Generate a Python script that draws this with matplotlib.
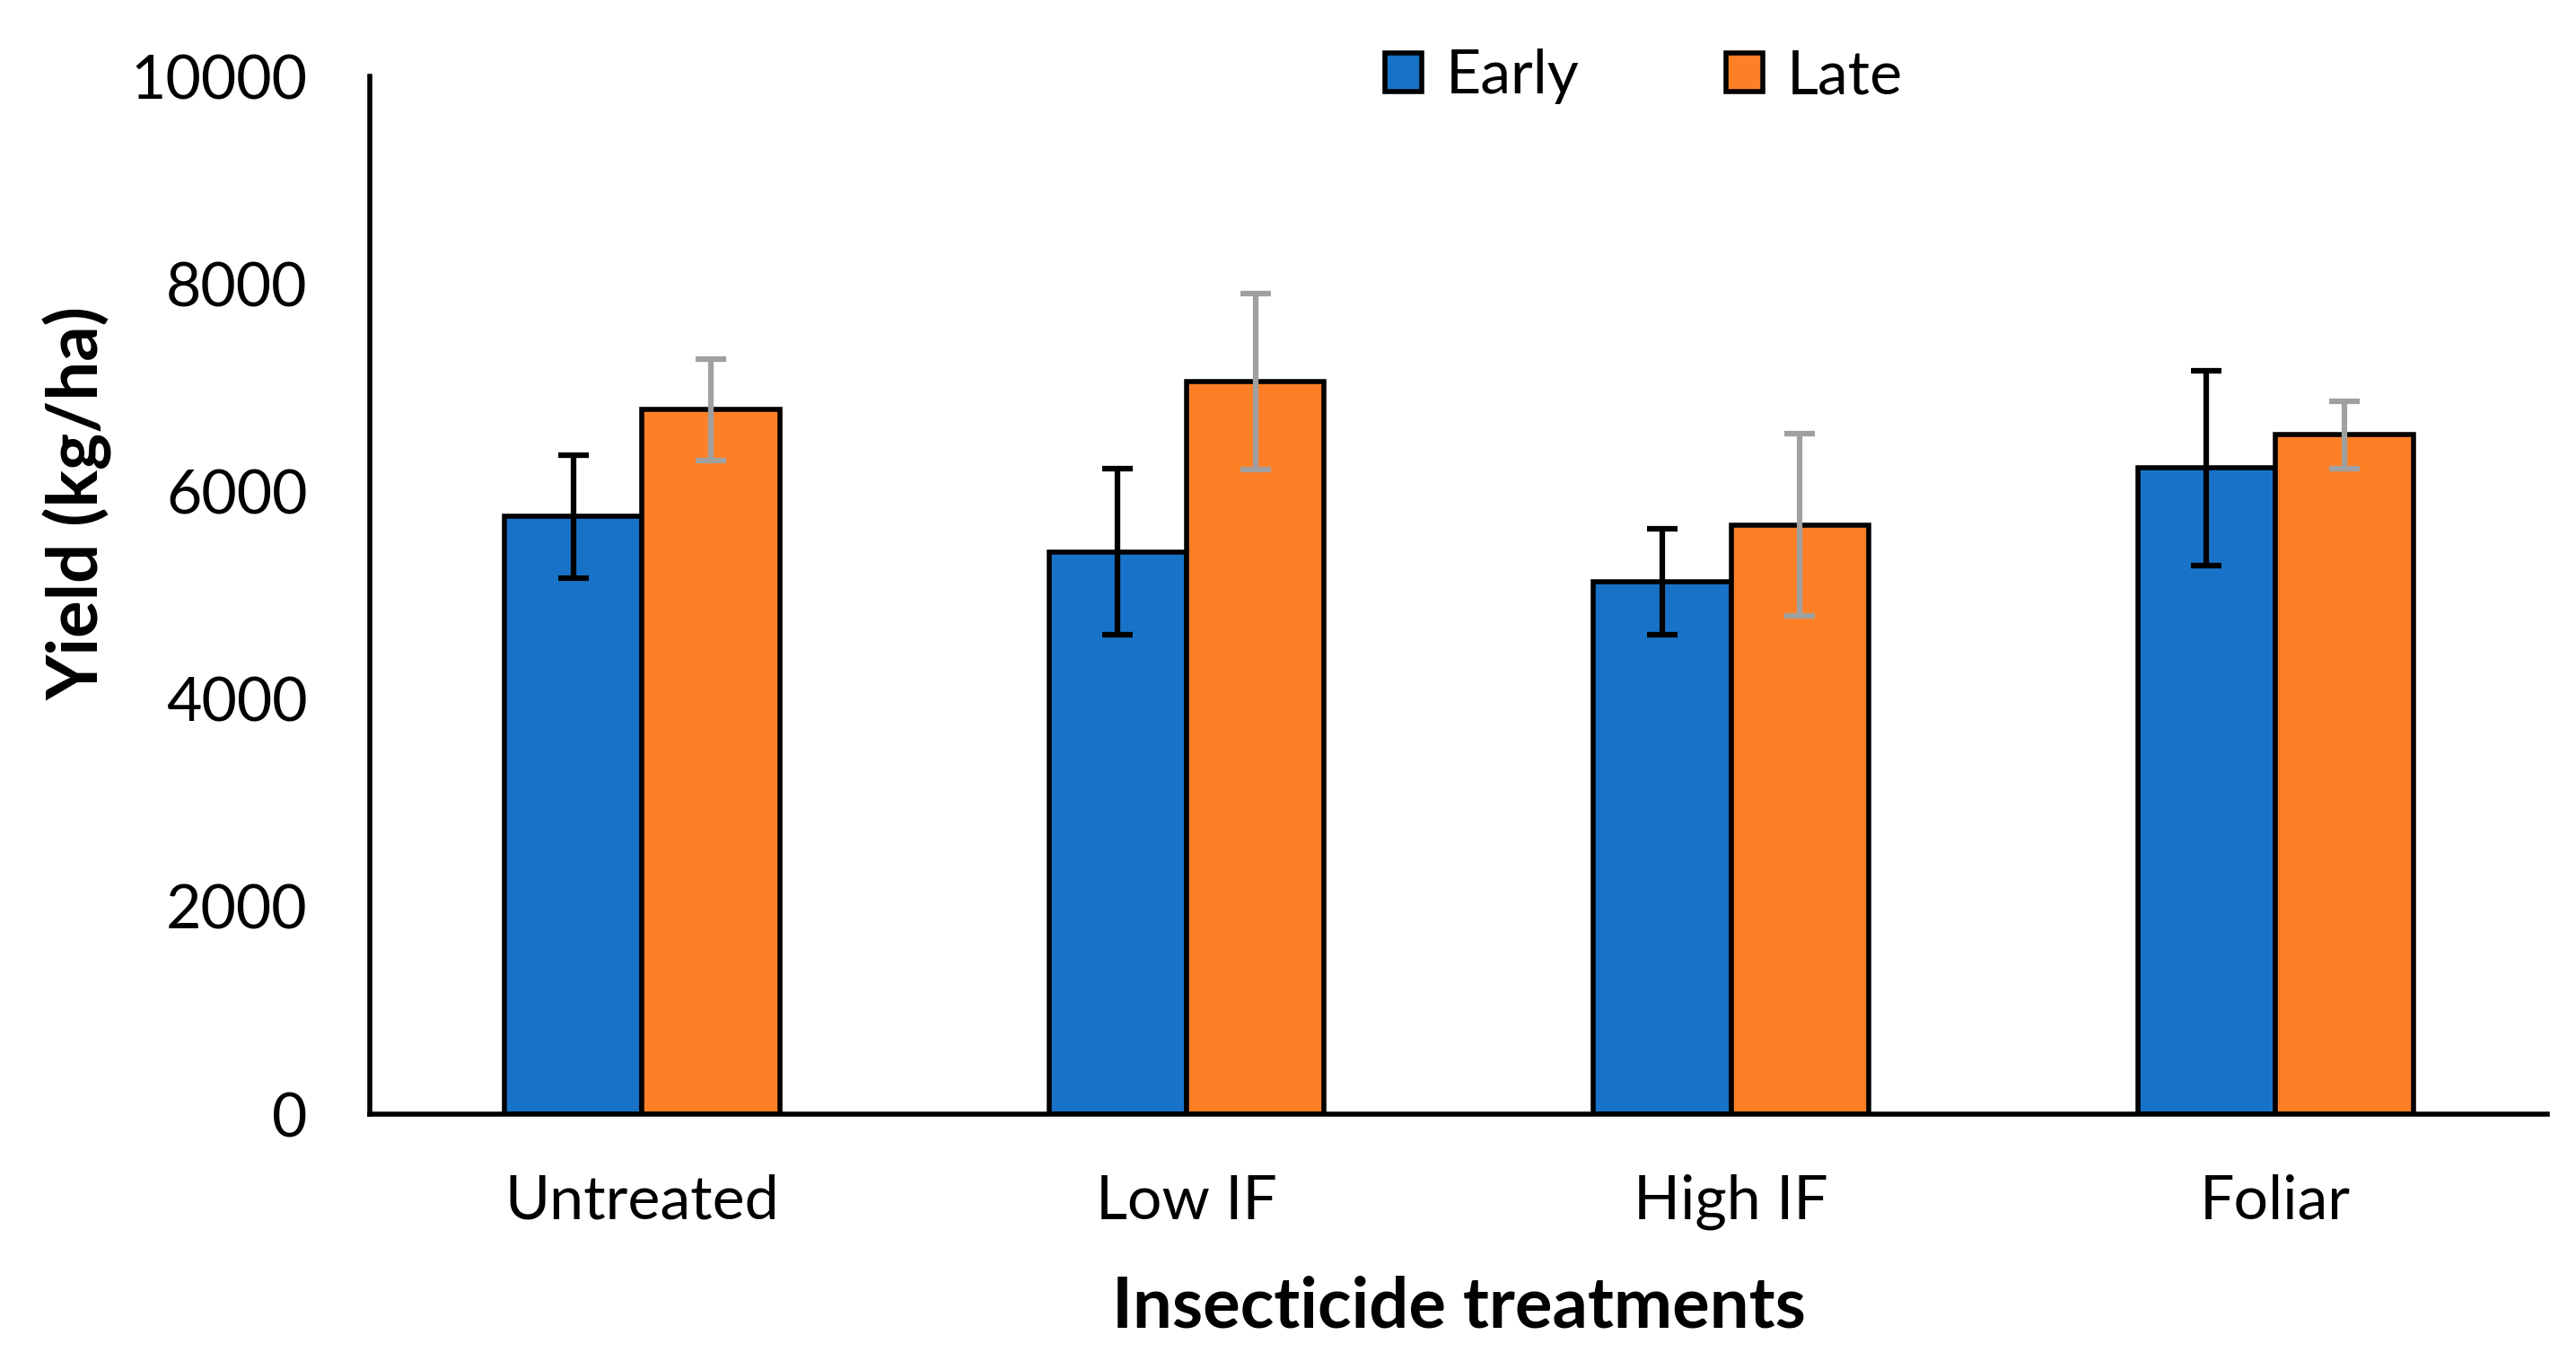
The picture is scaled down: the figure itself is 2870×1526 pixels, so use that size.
import matplotlib.pyplot as plt
import numpy as np

plt.rcParams['font.family'] = ['Lato', 'DejaVu Sans']

treatments = ['Untreated', 'Low IF', 'High IF', 'Foliar']
early = [5760, 5420, 5130, 6230]
late = [6790, 7060, 5680, 6550]
early_err = [590, 800, 510, 940]
late_err = [490, 850, 880, 325]

blue = '#1873C8'
orange = '#FF7F27'

fig = plt.figure(figsize=(28.7, 15.26), dpi=100)
ax = fig.add_axes([0.1436, 0.1867, 0.8454, 0.7573])

x = np.arange(len(treatments))
w = 0.253

ax.bar(x - w / 2, early, w, color=blue, edgecolor='black', linewidth=4,
       label='Early', zorder=2)
ax.bar(x + w / 2, late, w, color=orange, edgecolor='black', linewidth=4,
       label='Late', zorder=2)
ax.errorbar(x - w / 2, early, yerr=early_err, fmt='none', ecolor='black',
            elinewidth=4.5, capsize=12, capthick=4.5, zorder=3)
ax.errorbar(x + w / 2, late, yerr=late_err, fmt='none', ecolor='#A0A0A0',
            elinewidth=4.5, capsize=12, capthick=4.5, zorder=3)

ax.set_xlim(-0.5, 3.5)
ax.set_ylim(0, 10000)
ax.set_yticks(range(0, 10001, 2000))
ax.set_xticks(x)
ax.set_xticklabels(treatments)
ax.tick_params(axis='both', length=0, labelsize=49)
ax.tick_params(axis='x', pad=48)
ax.tick_params(axis='y', pad=50)

for s in ['top', 'right']:
    ax.spines[s].set_visible(False)
for s in ['left', 'bottom']:
    ax.spines[s].set_linewidth(4)

ax.set_xlabel('Insecticide treatments', fontsize=56, fontweight='bold', labelpad=36)
ax.set_ylabel('Yield (kg/ha)', fontsize=56, fontweight='bold')
ax.yaxis.set_label_coords(-0.118, 0.589)

ax.legend(loc='center', bbox_to_anchor=(0.585, 1.0), ncol=2, frameon=False,
          fontsize=49, handlelength=0.6, handleheight=0.6, columnspacing=2.4,
          handletextpad=0.4)

fig.savefig('out.png', dpi=100)
